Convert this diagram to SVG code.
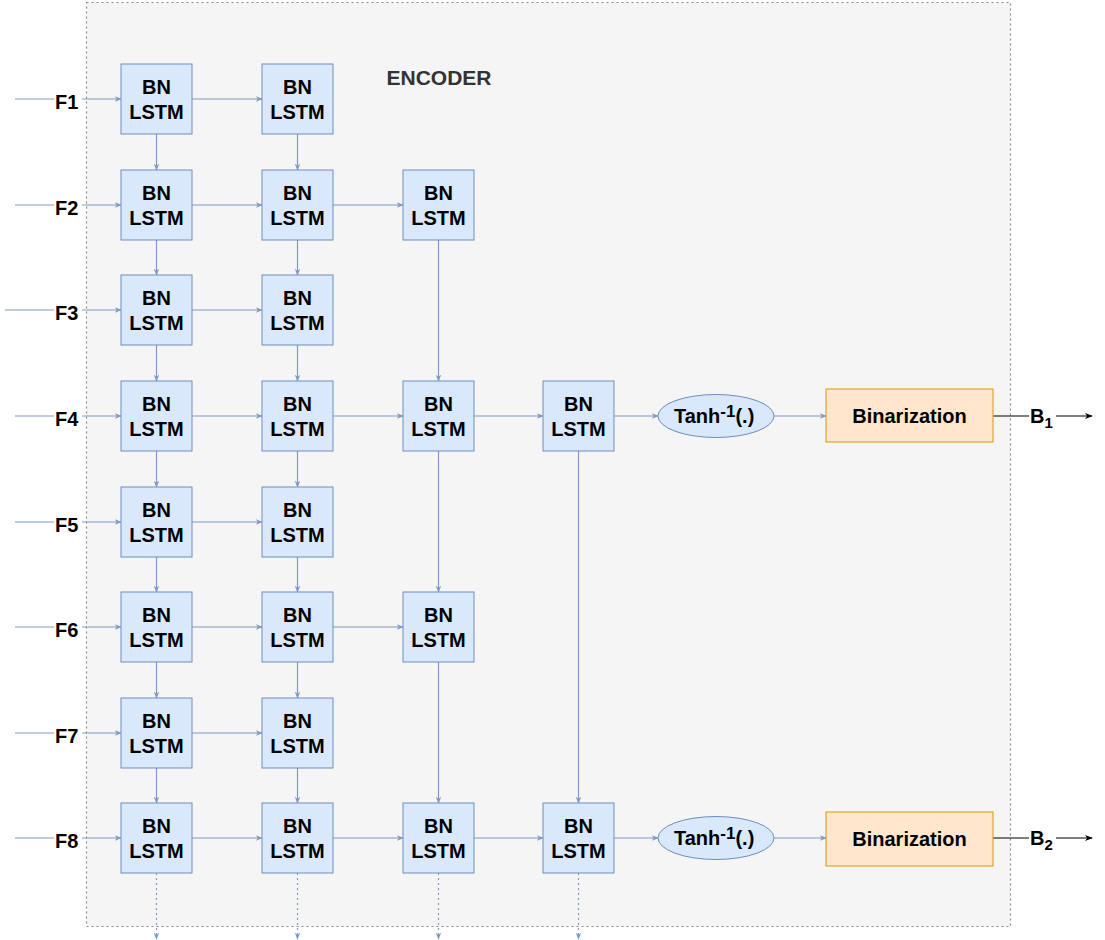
<svg xmlns="http://www.w3.org/2000/svg" width="1105" height="940" viewBox="0 0 1105 940">
  <style>
    .cell rect { fill: #dae8fc; stroke: #6c8ebf; stroke-width: 1; }
    .cell text { font-family: "Liberation Sans", Arial, sans-serif; font-weight: bold; font-size: 20px; fill: #000; text-anchor: middle; }
    .lbl { font-family: "Liberation Sans", Arial, sans-serif; font-weight: bold; font-size: 20px; fill: #000; }
    .edge { stroke: #7f9ac6; stroke-width: 1.2; fill: none; }
    .edge.arr { marker-end: url(#ah); }
    .edge.dash { stroke-dasharray: 2 3; marker-end: url(#ah); }
    .out { stroke: #000; stroke-width: 1.2; fill: none; }
  </style>
  <defs>
    <marker id="ah" viewBox="0 0 10 10" refX="9" refY="5" markerWidth="7" markerHeight="7" markerUnits="userSpaceOnUse" orient="auto">
      <path d="M0,1 L10,5 L0,9 L3,5 Z" fill="#7f9ac6"/>
    </marker>
    <marker id="ahk" viewBox="0 0 10 10" refX="9" refY="5" markerWidth="8" markerHeight="8" markerUnits="userSpaceOnUse" orient="auto">
      <path d="M0,1 L10,5 L0,9 L3,5 Z" fill="#000"/>
    </marker>
  </defs>

  <rect width="1105" height="940" fill="#ffffff"/>

  <!-- encoder container -->
  <g id="encoder">
    <rect x="86.5" y="2.5" width="924" height="924" fill="#f5f5f5" stroke="#8a8a8a" stroke-width="1.2" stroke-dasharray="2 3"/>
    <text x="439" y="84.5" font-family="Liberation Sans, Arial, sans-serif" font-weight="bold" font-size="21" fill="#333" text-anchor="middle">ENCODER</text>
  </g>

  <!-- connectors -->
  <g id="connectors">
    <!-- inputs -->
    <path class="edge" d="M15,99 H54"/><path class="edge arr" d="M82,99 H121"/>
    <path class="edge" d="M15,205 H54"/><path class="edge arr" d="M82,205 H121"/>
    <path class="edge" d="M5,310 H54"/><path class="edge arr" d="M82,310 H121"/>
    <path class="edge" d="M15,416 H54"/><path class="edge arr" d="M82,416 H121"/>
    <path class="edge" d="M15,522 H54"/><path class="edge arr" d="M82,522 H121"/>
    <path class="edge" d="M15,627 H54"/><path class="edge arr" d="M82,627 H121"/>
    <path class="edge" d="M15,733 H54"/><path class="edge arr" d="M82,733 H121"/>
    <path class="edge" d="M15,838 H54"/><path class="edge arr" d="M82,838 H121"/>

    <!-- column 1 to column 2 -->
    <path class="edge arr" d="M192,99 H262"/>
    <path class="edge arr" d="M192,205 H262"/>
    <path class="edge arr" d="M192,310 H262"/>
    <path class="edge arr" d="M192,416 H262"/>
    <path class="edge arr" d="M192,522 H262"/>
    <path class="edge arr" d="M192,627 H262"/>
    <path class="edge arr" d="M192,733 H262"/>
    <path class="edge arr" d="M192,838 H262"/>

    <!-- column 2 to column 3 -->
    <path class="edge arr" d="M333,205 H403"/>
    <path class="edge arr" d="M333,416 H403"/>
    <path class="edge arr" d="M333,627 H403"/>
    <path class="edge arr" d="M333,838 H403"/>

    <!-- column 3 to column 4 -->
    <path class="edge arr" d="M474,416 H543"/>
    <path class="edge arr" d="M474,838 H543"/>

    <!-- vertical chains, columns 1 and 2 -->
    <path class="edge arr" d="M156.5,134 V170"/>
    <path class="edge arr" d="M156.5,240 V275"/>
    <path class="edge arr" d="M156.5,345 V381"/>
    <path class="edge arr" d="M156.5,451 V487"/>
    <path class="edge arr" d="M156.5,557 V592"/>
    <path class="edge arr" d="M156.5,662 V698"/>
    <path class="edge arr" d="M156.5,768 V803"/>
    <path class="edge arr" d="M297.5,134 V170"/>
    <path class="edge arr" d="M297.5,240 V275"/>
    <path class="edge arr" d="M297.5,345 V381"/>
    <path class="edge arr" d="M297.5,451 V487"/>
    <path class="edge arr" d="M297.5,557 V592"/>
    <path class="edge arr" d="M297.5,662 V698"/>
    <path class="edge arr" d="M297.5,768 V803"/>

    <!-- vertical links, columns 3 and 4 -->
    <path class="edge arr" d="M438.5,240 V381"/>
    <path class="edge arr" d="M438.5,451 V592"/>
    <path class="edge arr" d="M438.5,662 V803"/>
    <path class="edge arr" d="M578.5,451 V803"/>

    <!-- outputs from bottom row -->
    <path class="edge dash" d="M156.5,873 V939"/>
    <path class="edge dash" d="M297.5,873 V939"/>
    <path class="edge dash" d="M438.5,873 V939"/>
    <path class="edge dash" d="M578.5,873 V939"/>

    <!-- towards binarization -->
    <path class="edge arr" d="M614,416 H658"/>
    <path class="edge arr" d="M774,416 H826"/>
    <path class="edge arr" d="M614,838 H658"/>
    <path class="edge arr" d="M774,838 H826"/>

    <!-- code outputs -->
    <path class="out" d="M993,416 H1029"/>
    <path class="out" d="M1056,416 H1092" marker-end="url(#ahk)"/>
    <path class="out" d="M993,838 H1029"/>
    <path class="out" d="M1056,838 H1092" marker-end="url(#ahk)"/>
  </g>

  <!-- input labels -->
  <g id="inputs">
    <text class="lbl" x="55" y="109">F1</text>
    <text class="lbl" x="55" y="215">F2</text>
    <text class="lbl" x="55" y="320">F3</text>
    <text class="lbl" x="55" y="426">F4</text>
    <text class="lbl" x="55" y="532">F5</text>
    <text class="lbl" x="55" y="637">F6</text>
    <text class="lbl" x="55" y="743">F7</text>
    <text class="lbl" x="55" y="848">F8</text>
  </g>

  <!-- BN LSTM cells: column 1 -->
  <g id="c1r1" class="cell"><rect x="121" y="64" width="71" height="70"/><text x="156.5" y="94">BN</text><text x="156.5" y="119">LSTM</text></g>
  <g id="c1r2" class="cell"><rect x="121" y="170" width="71" height="70"/><text x="156.5" y="200">BN</text><text x="156.5" y="225">LSTM</text></g>
  <g id="c1r3" class="cell"><rect x="121" y="275" width="71" height="70"/><text x="156.5" y="305">BN</text><text x="156.5" y="330">LSTM</text></g>
  <g id="c1r4" class="cell"><rect x="121" y="381" width="71" height="70"/><text x="156.5" y="411">BN</text><text x="156.5" y="436">LSTM</text></g>
  <g id="c1r5" class="cell"><rect x="121" y="487" width="71" height="70"/><text x="156.5" y="517">BN</text><text x="156.5" y="542">LSTM</text></g>
  <g id="c1r6" class="cell"><rect x="121" y="592" width="71" height="70"/><text x="156.5" y="622">BN</text><text x="156.5" y="647">LSTM</text></g>
  <g id="c1r7" class="cell"><rect x="121" y="698" width="71" height="70"/><text x="156.5" y="728">BN</text><text x="156.5" y="753">LSTM</text></g>
  <g id="c1r8" class="cell"><rect x="121" y="803" width="71" height="70"/><text x="156.5" y="833">BN</text><text x="156.5" y="858">LSTM</text></g>

  <!-- column 2 -->
  <g id="c2r1" class="cell"><rect x="262" y="64" width="71" height="70"/><text x="297.5" y="94">BN</text><text x="297.5" y="119">LSTM</text></g>
  <g id="c2r2" class="cell"><rect x="262" y="170" width="71" height="70"/><text x="297.5" y="200">BN</text><text x="297.5" y="225">LSTM</text></g>
  <g id="c2r3" class="cell"><rect x="262" y="275" width="71" height="70"/><text x="297.5" y="305">BN</text><text x="297.5" y="330">LSTM</text></g>
  <g id="c2r4" class="cell"><rect x="262" y="381" width="71" height="70"/><text x="297.5" y="411">BN</text><text x="297.5" y="436">LSTM</text></g>
  <g id="c2r5" class="cell"><rect x="262" y="487" width="71" height="70"/><text x="297.5" y="517">BN</text><text x="297.5" y="542">LSTM</text></g>
  <g id="c2r6" class="cell"><rect x="262" y="592" width="71" height="70"/><text x="297.5" y="622">BN</text><text x="297.5" y="647">LSTM</text></g>
  <g id="c2r7" class="cell"><rect x="262" y="698" width="71" height="70"/><text x="297.5" y="728">BN</text><text x="297.5" y="753">LSTM</text></g>
  <g id="c2r8" class="cell"><rect x="262" y="803" width="71" height="70"/><text x="297.5" y="833">BN</text><text x="297.5" y="858">LSTM</text></g>

  <!-- column 3 -->
  <g id="c3r2" class="cell"><rect x="403" y="170" width="71" height="70"/><text x="438.5" y="200">BN</text><text x="438.5" y="225">LSTM</text></g>
  <g id="c3r4" class="cell"><rect x="403" y="381" width="71" height="70"/><text x="438.5" y="411">BN</text><text x="438.5" y="436">LSTM</text></g>
  <g id="c3r6" class="cell"><rect x="403" y="592" width="71" height="70"/><text x="438.5" y="622">BN</text><text x="438.5" y="647">LSTM</text></g>
  <g id="c3r8" class="cell"><rect x="403" y="803" width="71" height="70"/><text x="438.5" y="833">BN</text><text x="438.5" y="858">LSTM</text></g>

  <!-- column 4 -->
  <g id="c4r4" class="cell"><rect x="543" y="381" width="71" height="70"/><text x="578.5" y="411">BN</text><text x="578.5" y="436">LSTM</text></g>
  <g id="c4r8" class="cell"><rect x="543" y="803" width="71" height="70"/><text x="578.5" y="833">BN</text><text x="578.5" y="858">LSTM</text></g>

  <!-- inverse tanh stages -->
  <g id="tanh1">
    <ellipse cx="716" cy="416" rx="58" ry="21.5" fill="#dae8fc" stroke="#6c8ebf" stroke-width="1"/>
    <text class="lbl" x="674" y="423">Tanh<tspan font-size="17" dy="-6">-1</tspan><tspan dy="6">(.)</tspan></text>
  </g>
  <g id="tanh2">
    <ellipse cx="716" cy="838" rx="58" ry="21.5" fill="#dae8fc" stroke="#6c8ebf" stroke-width="1"/>
    <text class="lbl" x="674" y="845">Tanh<tspan font-size="17" dy="-6">-1</tspan><tspan dy="6">(.)</tspan></text>
  </g>

  <!-- binarization blocks -->
  <g id="bin1">
    <rect x="826" y="389" width="167" height="53" fill="#ffe6cc" stroke="#d79b00" stroke-width="1"/>
    <text class="lbl" x="909.5" y="423" text-anchor="middle">Binarization</text>
  </g>
  <g id="bin2">
    <rect x="826" y="812" width="167" height="54" fill="#ffe6cc" stroke="#d79b00" stroke-width="1"/>
    <text class="lbl" x="909.5" y="846" text-anchor="middle">Binarization</text>
  </g>

  <!-- code labels -->
  <g id="b1"><text class="lbl" x="1030" y="423">B<tspan font-size="15" dy="5">1</tspan></text></g>
  <g id="b2"><text class="lbl" x="1030" y="845">B<tspan font-size="15" dy="5">2</tspan></text></g>
</svg>
